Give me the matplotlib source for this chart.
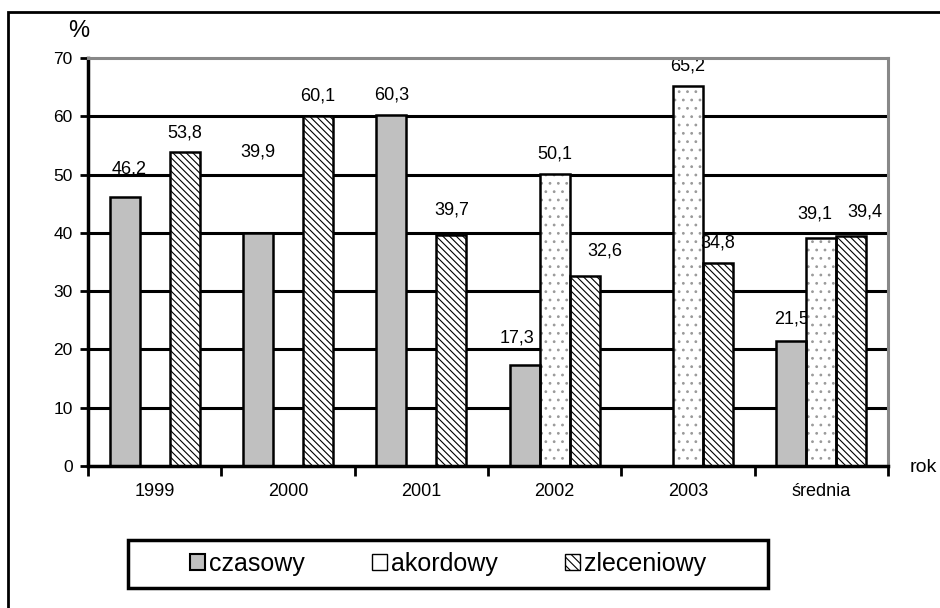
import numpy as np
import matplotlib.pyplot as plt
from matplotlib.patches import Rectangle

plt.rcParams['font.family'] = ['Liberation Sans', 'DejaVu Sans']
plt.rcParams['hatch.linewidth'] = 0.8

categories = ['1999', '2000', '2001', '2002', '2003', 'średnia']
czasowy = [46.2, 39.9, 60.3, 17.3, 0.0, 21.5]
akordowy = [0.0, 0.0, 0.0, 50.1, 65.2, 39.1]
zleceniowy = [53.8, 60.1, 39.7, 32.6, 34.8, 39.4]
series_names = ['czasowy', 'akordowy', 'zleceniowy']

# label nudges in pixels (series index, category index) -> (dx, dy)
label_shift = {(0, 0): (4, 23), (0, 1): (0, 77), (0, 3): (-8, 23), (2, 2): (0, 20),
               (2, 3): (20, 20), (1, 5): (-6, 20), (2, 5): (14, 20), (2, 4): (0, 16),
               (0, 5): (0, 17)}

fig = plt.figure(figsize=(9.4, 6.08), dpi=100)
ax = fig.add_axes([88/940, 1 - 466/608, 800/940, 408/608])

x = np.arange(len(categories))
w = 0.225
fills = ['#c0c0c0', 'white', 'white']
hatches = [None, '..', '\\\\\\\\\\']
hatch_cols = ['black', '#9a9a9a', 'black']
series = [czasowy, akordowy, zleceniowy]
for i, vals in enumerate(series):
    pos = x + (i - 1) * w
    for j, (p, v) in enumerate(zip(pos, vals)):
        if v <= 0:
            continue
        ax.bar(p, v, w, color=fills[i], edgecolor=hatch_cols[i], linewidth=0,
               hatch=hatches[i], zorder=3)
        ax.bar(p, v, w, fill=False, edgecolor='black', linewidth=1.8, zorder=3.5)
        dx, dy = label_shift.get((i, j), (0, 15))
        ax.annotate(f'{v:.1f}'.replace('.', ','), (p, v), xytext=(dx * 0.72, dy * 0.72),
                    textcoords='offset points', ha='center', va='baseline', fontsize=13)

ax.set_xlim(-0.5, 5.5)
ax.set_ylim(0, 70)
ax.set_yticks(range(0, 71, 10))
ax.set_yticklabels([str(v) for v in range(0, 71, 10)], fontsize=12.5)
ax.set_xticks(np.arange(-0.5, 5.6, 1))
ax.set_xticklabels([])
ax.set_xticks(x, minor=True)
ax.set_xticklabels(categories, minor=True, fontsize=13)
ax.tick_params(axis='x', which='major', direction='out', length=7, width=2)
ax.tick_params(axis='x', which='minor', length=0, pad=12)
ax.tick_params(axis='y', direction='out', length=6, width=2, pad=5)

for yv in range(10, 70, 10):
    ax.axhline(yv, color='black', linewidth=2.2, zorder=1)
ax.spines['left'].set_linewidth(2.5)
ax.spines['bottom'].set_linewidth(2.5)
for s in ['top', 'right']:
    ax.spines[s].set_color('#888888')
    ax.spines[s].set_linewidth(2.2)
for sp in ax.spines.values():
    sp.set_zorder(4)

fig.text(79/940, 1 - 31/608, '%', fontsize=17, ha='center', va='center')
fig.text(910/940, 1 - 468/608, 'rok', fontsize=14, ha='left', va='center')

# outer frame
fig.patches.append(Rectangle((8/940, -0.05), 1.1, 1 - 12/608 + 0.05,
                             transform=fig.transFigure, fill=False,
                             edgecolor='black', linewidth=2))

# legend box
fig.patches.append(Rectangle((128/940, 1 - 588/608), 640/940, 48/608,
                             transform=fig.transFigure, fill=False,
                             edgecolor='black', linewidth=2.5))
leg_hatches = [None, None, '\\\\\\\\']
handles = [Rectangle((0, 0), 1, 1, facecolor=fills[i], edgecolor='black',
                     hatch=leg_hatches[i], linewidth=1.5 if i == 0 else 1.0) for i in range(3)]
leg = fig.legend(handles, series_names, loc='center',
                 bbox_to_anchor=(448/940, 1 - 564/608), ncol=3, fontsize=18,
                 frameon=False, handlelength=0.6, handleheight=0.6,
                 handletextpad=0.15, columnspacing=2.7, borderaxespad=0)

fig.savefig('out.png', dpi=100)
